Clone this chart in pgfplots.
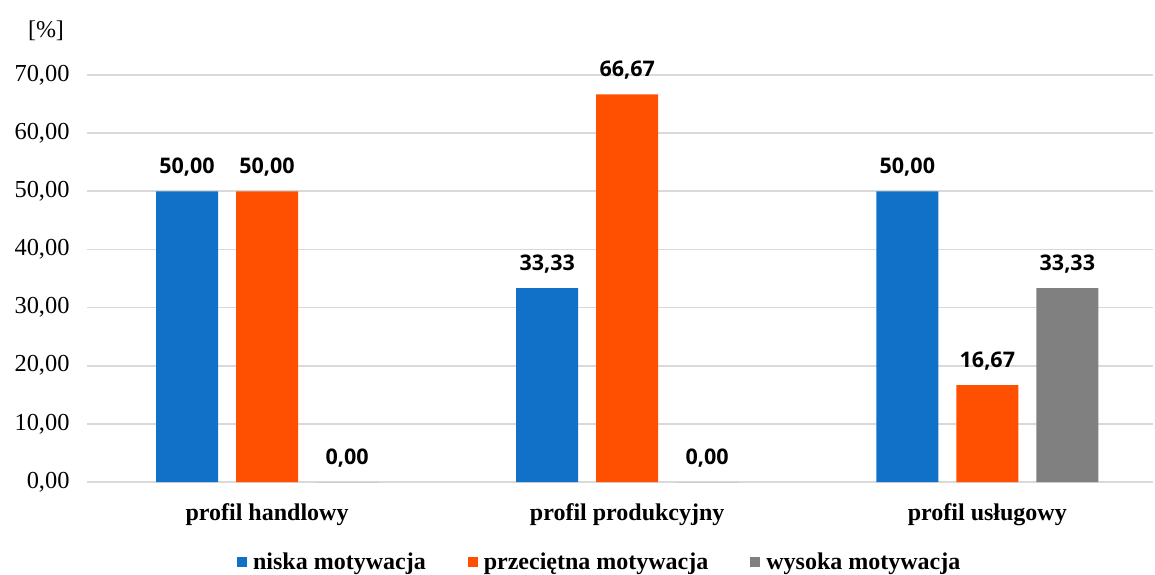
\documentclass[border=0pt]{standalone}
\usepackage{fontspec}
\setmainfont{Liberation Serif}
\newfontfamily\labfont{Open Sans}
\usepackage{pgfplots}
\pgfplotsset{compat=1.18}
\definecolor{cblue}{HTML}{1170C8}
\definecolor{corange}{HTML}{FF4F00}
\definecolor{cgray}{HTML}{808080}
\definecolor{cgrid}{HTML}{D9D9D9}
\begin{document}
\begin{tikzpicture}[x=1pt,y=1pt]
\useasboundingbox (0,0) rectangle (1155,574);
\begin{axis}[
  at={(87pt,92pt)}, anchor=south west,
  scale only axis, width=1066pt, height=407pt,
  xmin=-0.5, xmax=2.46, ymin=0, ymax=70,
  ybar=18pt, bar width=62pt,
  axis line style={draw=none},
  major tick length=0pt,
  ytick={0,10,...,70},
  ymajorgrids, grid style={cgrid, line width=1.8pt},
  xtick={0,1,2},
  xticklabels={profil handlowy, profil produkcyjny, profil usługowy},
  xticklabel style={font=\fontsize{24}{28}\selectfont\bfseries, yshift=-18pt},
  yticklabel style={font=\fontsize{24.4}{28}\selectfont, xshift=-14pt},
  /pgf/number format/.cd, use comma, fixed, fixed zerofill, precision=2, assume math mode=true,
  /pgfplots/.cd,
  nodes near coords,
  nodes near coords style={font=\labfont\bfseries\fontsize{21.5}{25}\selectfont, anchor=base, yshift=18pt, text=black},
  legend style={at={(0.481,-0.197)}, anchor=center, draw=none, legend columns=3,
    font=\fontsize{24}{28}\selectfont\bfseries,
    /tikz/every odd column/.append style={column sep=4pt},
    /tikz/every even column/.append style={column sep=40pt}},
  legend image code/.code={\fill[#1] (0pt,-5pt) rectangle (10pt,5pt);},
]
\addplot[fill=cblue, draw=none] coordinates {(0,50) (1,33.33) (2,50)};
\addplot[fill=corange, draw=none] coordinates {(0,50) (1,66.67) (2,16.67)};
\addplot[fill=cgray, draw=none] coordinates {(0,0) (1,0) (2,33.33)};
\legend{niska motywacja, przeciętna motywacja, wysoka motywacja}
\end{axis}
\node[font=\fontsize{24}{28}\selectfont] at (46,543) {[\%]};
\end{tikzpicture}
\end{document}
